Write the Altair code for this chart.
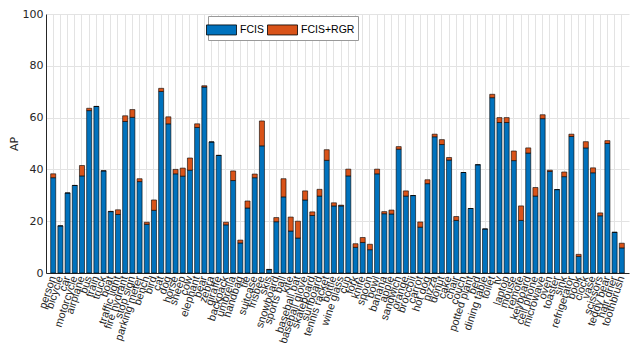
import altair as alt
import pandas as pd

categories = ["person", "bicycle", "car", "motorcycle", "airplane", "bus", "train", "truck", "boat",
              "traffic light", "fire hydrant", "stop sign", "parking meter", "bench", "bird", "cat",
              "dog", "horse", "sheep", "cow", "elephant", "bear", "zebra", "giraffe", "backpack",
              "umbrella", "handbag", "tie", "suitcase", "frisbee", "skis", "snowboard", "sports ball",
              "kite", "baseball bat", "baseball glove", "skateboard", "surfboard", "tennis racket",
              "bottle", "wine glass", "cup", "fork", "knife", "spoon", "bowl", "banana", "apple",
              "sandwich", "orange", "broccoli", "carrot", "hot dog", "pizza", "donut", "cake", "chair",
              "couch", "potted plant", "bed", "dining table", "toilet", "tv", "laptop", "mouse",
              "remote", "keyboard", "cell phone", "microwave", "oven", "toaster", "sink",
              "refrigerator", "book", "clock", "vase", "scissors", "teddy bear", "hair drier",
              "toothbrush"]

fcis = [36.8, 18.2, 30.9, 33.8, 37.5, 62.7, 64.3, 39.4, 23.7, 22.6, 58.5, 60.1, 35.3, 18.8, 24.2,
        70.1, 57.6, 38.3, 37.4, 39.7, 56.2, 71.8, 50.6, 45.4, 18.6, 35.7, 11.6, 25.1, 36.8, 49.1,
        1.3, 19.8, 29.4, 16.2, 13.5, 28.2, 22.2, 29.7, 43.5, 25.9, 25.9, 37.5, 9.9, 11.8, 9.0,
        38.3, 22.9, 22.8, 47.8, 29.7, 29.9, 17.7, 34.5, 52.6, 49.6, 43.6, 20.3, 38.8, 24.9, 41.8,
        17.0, 67.7, 58.1, 58.1, 43.4, 20.3, 46.3, 29.7, 59.6, 39.2, 32.2, 37.2, 52.7, 6.4, 48.3,
        38.7, 22.1, 50.0, 15.7, 9.7]

fcis_rgr = [38.3, 18.2, 30.9, 33.8, 41.5, 63.6, 64.3, 39.5, 23.8, 24.4, 60.7, 63.1, 36.4, 19.6, 28.2,
            71.3, 60.3, 40.0, 40.5, 44.4, 57.6, 72.3, 50.6, 45.4, 19.6, 39.4, 12.7, 27.8, 38.2, 58.7,
            1.4, 21.4, 36.4, 21.6, 20.0, 31.7, 23.6, 32.3, 47.6, 27.1, 26.2, 40.1, 11.3, 13.7, 11.1,
            40.1, 23.7, 24.3, 48.8, 31.7, 29.9, 19.7, 36.0, 53.6, 51.5, 44.6, 21.8, 38.8, 24.9, 41.8,
            17.0, 69.0, 60.0, 60.0, 47.1, 25.9, 48.3, 33.0, 61.1, 39.7, 32.2, 39.0, 53.6, 7.2, 50.7,
            40.6, 23.2, 51.1, 15.7, 11.5]

series = ["FCIS", "FCIS+RGR"]
colors = ["#0072BD", "#D95319"]

rows = []
for c, a, b in zip(categories, fcis, fcis_rgr):
    rows.append({"cat": c, "method": series[0], "lo": 0.0, "hi": a})
    rows.append({"cat": c, "method": series[1], "lo": a, "hi": max(a, b)})
df = pd.DataFrame(rows)

font = "DejaVu Sans"
lfont = "Liberation Sans"

chart = alt.Chart(df).mark_bar(stroke="black", strokeWidth=0.6).encode(
    x=alt.X("cat:N", sort=categories, title=None,
            scale=alt.Scale(paddingInner=0.3, paddingOuter=0.65),
            axis=alt.Axis(labelAngle=-72, labelFontSize=11, labelFont=lfont, labelColor="#262626",
                          labelPadding=3, ticks=False, grid=True, gridColor="#e3e3e3",
                          bandPosition=0.5, domainColor="#262626", labelOverlap=False,
                          labelBound=False)),
    y=alt.Y("hi:Q", title="AP",
            scale=alt.Scale(domain=[0, 100], nice=False),
            axis=alt.Axis(values=[0, 20, 40, 60, 80, 100], labelFontSize=11, labelFont=font,
                          labelColor="#262626", titleFont=font, titleFontSize=11,
                          titleFontWeight="normal", titleColor="#262626", titlePadding=3,
                          gridColor="#e3e3e3", domainColor="#262626", ticks=False,
                          labelPadding=3)),
    y2="lo:Q",
    color=alt.Color("method:N", sort=series, scale=alt.Scale(domain=series, range=colors),
                    legend=alt.Legend(title=None, orient="none", legendX=162, legendY=2,
                                      direction="horizontal",
                                      symbolType="M-1.5,-0.5L1.5,-0.5L1.5,0.5L-1.5,0.5Z",
                                      symbolSize=400, symbolStrokeColor="black", symbolStrokeWidth=0.8,
                                      labelFont=lfont, labelFontSize=10.5, labelColor="#000",
                                      labelOffset=8, columnPadding=1, padding=3,
                                      strokeColor="#999", fillColor="white", symbolOpacity=1)),
).properties(
    width=583, height=259,
    autosize=alt.AutoSizeParams(type="none"),
    padding={"left": 38, "top": 6, "right": 3, "bottom": 70},
).configure_view(stroke=None)

chart.save("out.html", embed_options={"renderer": "svg", "actions": False})
